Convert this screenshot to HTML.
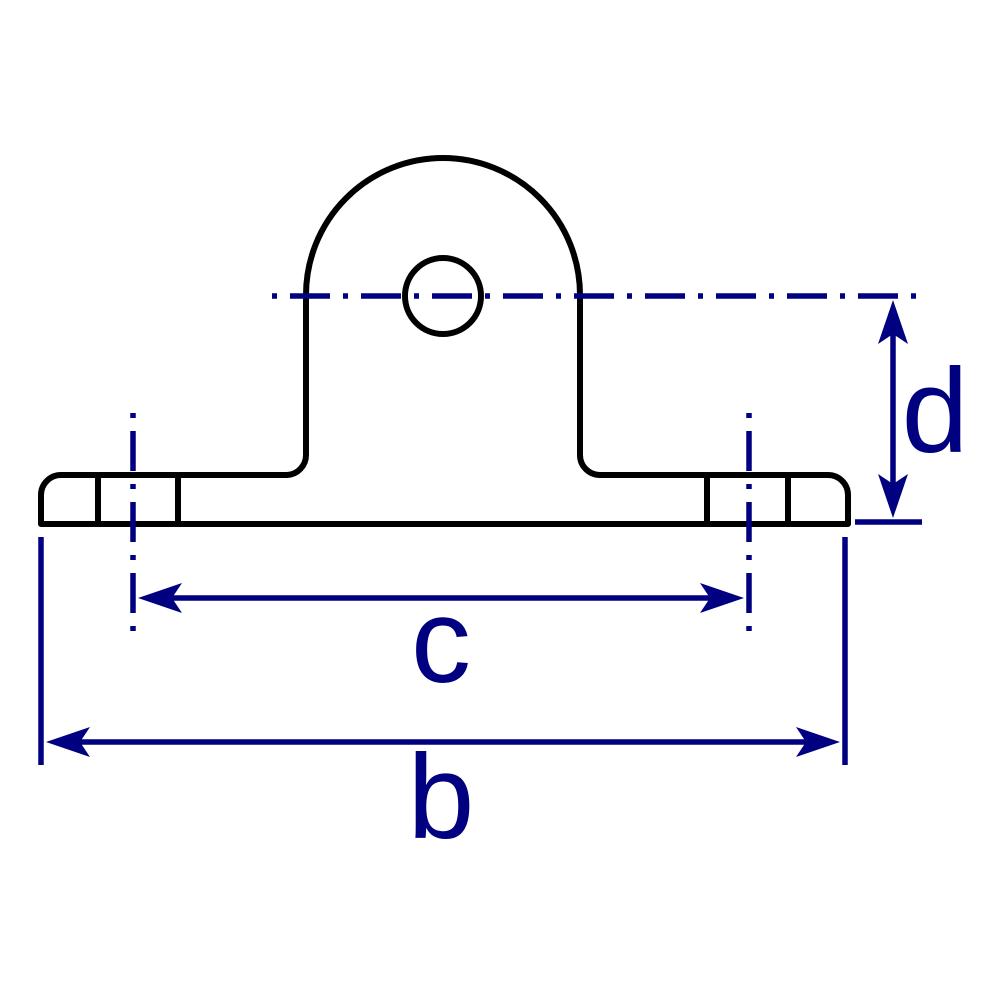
<!DOCTYPE html>
<html><head><style>html,body{margin:0;padding:0;background:#fff}svg{display:block}</style></head><body>
<svg width="1000" height="1000" viewBox="0 0 1000 1000" xmlns="http://www.w3.org/2000/svg">
<g fill="none" stroke="#000" stroke-width="6" stroke-linejoin="round">
<path d="M287,475 A20,20 0 0 0 306,455 L306,295 A137,137 0 0 1 580,295 L580,455 A20,20 0 0 0 600,475 L828,475 A20,20 0 0 1 848,495 L848,524 L41,524 L41,495 A20,20 0 0 1 61,475 Z"/>
<line x1="98" y1="475" x2="98" y2="524"/>
<line x1="178" y1="475" x2="178" y2="524"/>
<line x1="707" y1="475" x2="707" y2="524"/>
<line x1="788" y1="475" x2="788" y2="524"/>
<circle cx="443" cy="296" r="38"/>
</g>
<g stroke="#000080" stroke-width="5.5" fill="none">
<line x1="272" y1="296" x2="922" y2="296" stroke-dasharray="5,13,40,13" />
<line x1="133" y1="413" x2="133" y2="643" stroke-dasharray="5,13,40,13"/>
<line x1="749" y1="413" x2="749" y2="643" stroke-dasharray="5,13,40,13"/>
<line x1="855" y1="522" x2="922" y2="522"/>
<line x1="41" y1="537" x2="41" y2="765"/>
<line x1="845" y1="537" x2="845" y2="765"/>
<line x1="150" y1="598" x2="732" y2="598"/>
<line x1="56" y1="742" x2="830" y2="742"/>
<line x1="893" y1="310" x2="893" y2="508"/>
</g>
<g fill="#000080">
<path d="M138,598 L182,583 L172,598 L182,613 Z"/>
<path d="M744,598 L700,583 L710,598 L700,613 Z"/>
<path d="M46,742 L90,727 L80,742 L90,757 Z"/>
<path d="M840,742 L796,727 L806,742 L796,757 Z"/>
<path d="M893,300 L878,344 L893,334 L908,344 Z"/>
<path d="M893,518 L878,474 L893,484 L908,474 Z"/>
</g>
<g fill="#000080" font-family="Liberation Sans, sans-serif" font-size="120" text-anchor="middle">
<text x="935" y="452">d</text>
<text x="441" y="682">c</text>
<text x="441" y="838">b</text>
</g>
</svg>
</body></html>
